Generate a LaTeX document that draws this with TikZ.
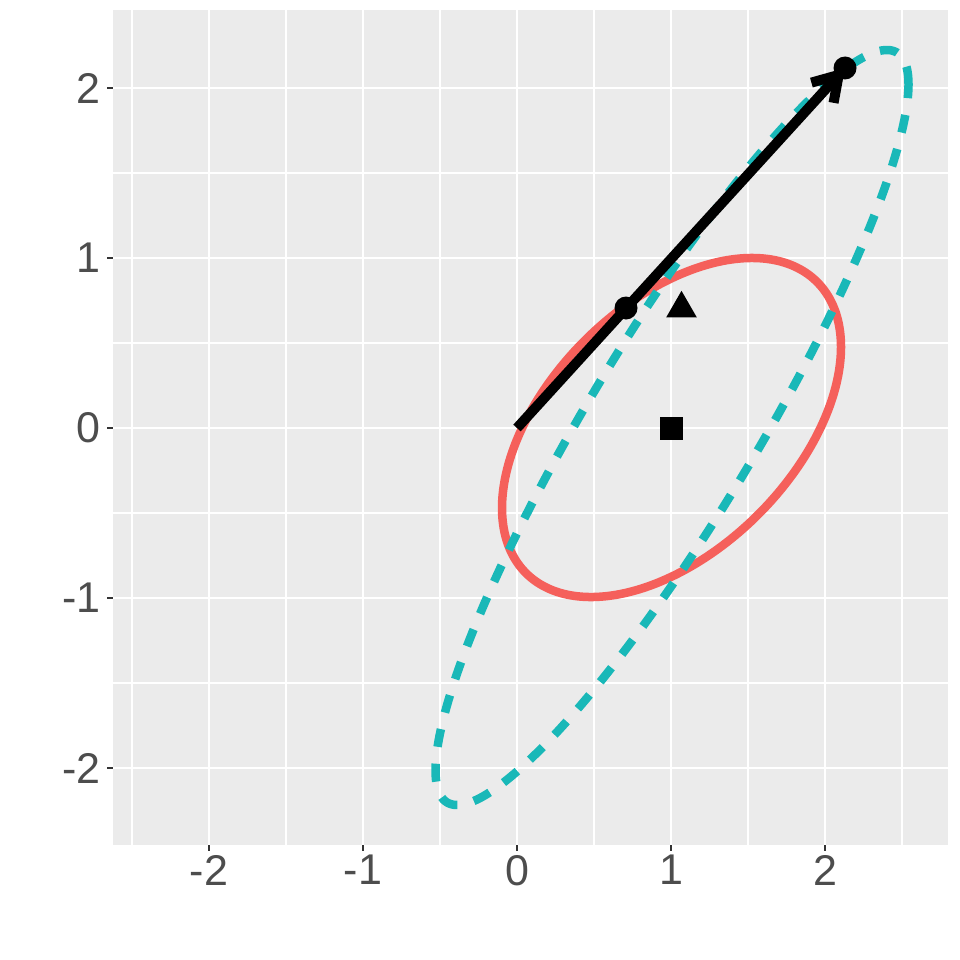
\documentclass[tikz,border=0pt]{standalone}
\usepackage{fontspec}
\setmainfont{Liberation Sans}
\usetikzlibrary{arrows.meta}
\definecolor{panelbg}{HTML}{EBEBEB}
\definecolor{redc}{HTML}{F5605B}
\definecolor{tealc}{HTML}{19B8B8}
\definecolor{labc}{HTML}{4D4D4D}
\definecolor{tickc}{HTML}{333333}
\tikzset{
  majorgrid/.style={draw=white, line width=2.3pt},
  minorgrid/.style={draw=white, line width=1.4pt},
  tickmark/.style={draw=tickc, line width=2.3pt},
  ticklab/.style={text=labc, inner sep=0pt, font=\fontsize{43}{43}\selectfont},
  redell/.style={draw=redc, line width=8.5pt},
  tealell/.style={draw=tealc, line width=8.5pt, dash pattern=on 18pt off 17pt},
  vecarrow/.style={draw=black, line width=10pt, -{Straight Barb[length=24pt, width=30pt]}},
  dotpt/.style={circle, fill=black, inner sep=0pt, minimum size=23pt},
  sqpt/.style={rectangle, fill=black, inner sep=0pt, minimum size=23pt},
}
\begin{document}
\begin{tikzpicture}[x=1pt, y=-1pt]
\useasboundingbox (0,0) rectangle (960,960);
\fill[white] (0,0) rectangle (960,960);
% panel
\fill[panelbg] (113,10) rectangle (948,845);
\foreach \gx in {132,286,440,594,748,902} \draw[minorgrid] (\gx,10) -- (\gx,845);
\foreach \gy in {173,343,513,683} \draw[minorgrid] (113,\gy) -- (948,\gy);
\foreach \gx in {209,363,517,671,825} \draw[majorgrid] (\gx,10) -- (\gx,845);
\foreach \gy in {88,258,428,598,768} \draw[majorgrid] (113,\gy) -- (948,\gy);
% ticks
\foreach \gx in {209,363,517,671,825} \draw[tickmark] (\gx,845) -- (\gx,851);
\foreach \gy in {88,258,428,598,768} \draw[tickmark] (107,\gy) -- (113,\gy);
% tick labels
\node[ticklab, anchor=east] (ly2) at (101,88) {2};
\node[ticklab, anchor=east] (ly1) at (101,258) {1};
\node[ticklab, anchor=east] (ly0) at (101,428) {0};
\node[ticklab, anchor=east] (lym1) at (101,598) {-1};
\node[ticklab, anchor=east] (lym2) at (101,768) {-2};
\node[ticklab, anchor=north] (lxm2) at (209,855) {-2};
\node[ticklab, anchor=north] (lxm1) at (363,855) {-1};
\node[ticklab, anchor=north] (lx0) at (517,855) {0};
\node[ticklab, anchor=north] (lx1) at (671,855) {1};
\node[ticklab, anchor=north] (lx2) at (825,855) {2};
% ellipses
\draw[redell] plot[domain=0:360, samples=240, smooth cycle]
  ({671.5+169.5*cos(\x)}, {427.5-(80.5*cos(\x)+149.2*sin(\x))});
\draw[tealell] plot[domain=0:359, samples=300, smooth]
  ({672+236.5*cos(\x)}, {427.5-(343*cos(\x)+157.7*sin(\x))}) -- cycle;
% vector
\coordinate (o) at (517,428);
\coordinate (tip) at (845,68);
\draw[vecarrow] (o) -- (tip);
% points
\node[dotpt] (p1) at (626,308) {};
\node[dotpt] (p3) at (845,68) {};
\node[sqpt] (sq) at (671.5,428) {};
\fill[black] (681.5,290.8) -- (696.8,317.35) -- (666.2,317.35) -- cycle;
\end{tikzpicture}
\end{document}
